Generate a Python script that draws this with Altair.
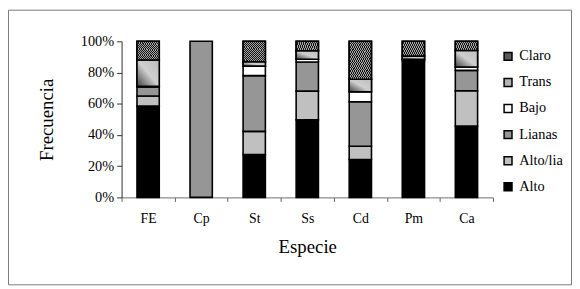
import altair as alt
import pandas as pd

especies = ["FE", "Cp", "St", "Ss", "Cd", "Pm", "Ca"]
series = ["Alto", "Alto/lia", "Lianas", "Bajo", "Trans", "Claro"]

alto = [58.5, 0, 27.5, 49.7, 24.3, 87.5, 45.7]
alto_lia = [6.5, 0, 14.8, 18.4, 8.5, 0, 22.6]
lianas = [5.7, 100, 35.7, 18.6, 28.5, 1.0, 13.1]
bajo = [0.5, 0, 6.1, 1.8, 6.4, 0, 2.1]
trans = [16.8, 0, 2.8, 5.5, 8.0, 2.0, 10.6]
claro = [12.0, 0, 13.1, 6.0, 24.3, 9.5, 5.9]

legend_order = ["Claro", "Trans", "Bajo", "Lianas", "Alto/lia", "Alto"]
legend_colors = ["#5a5a5a", "#b4b4b4", "#ffffff", "#969696", "#c0c0c0", "#000000"]
y_ticks = [0, 0.2, 0.4, 0.6, 0.8, 1.0]

rows = []
for i, e in enumerate(especies):
    base = 0.0
    for s, vals in zip(series, [alto, alto_lia, lianas, bajo, trans, claro]):
        v = vals[i]
        if v > 0:
            rows.append(dict(especie=e, serie=s, v0=base / 100, v1=(base + v) / 100))
        base += v
df = pd.DataFrame(rows)

FONT = "Liberation Serif"

x = alt.X(
    "especie:N",
    sort=especies,
    scale=alt.Scale(paddingInner=0, paddingOuter=0),
    axis=alt.Axis(
        title="Especie",
        tickBand="extent",
        labelAngle=0,
        labelFont=FONT,
        labelFontSize=14,
        labelColor="black",
        labelBaseline="alphabetic",
        labelPadding=21,
        tickSize=4,
        tickColor="#606060",
        domainColor="#707070",
        titleFont=FONT,
        titleFontSize=19,
        titleFontWeight="normal",
        titleColor="black",
        titleX=188,
        titleY=56,
        titleBaseline="alphabetic",
        titleAlign="center",
    ),
)
y = alt.Y(
    "v0:Q",
    scale=alt.Scale(domain=[0, 1]),
    axis=alt.Axis(
        values=y_ticks,
        format=".0%",
        title="Frecuencia",
        grid=False,
        labelFont=FONT,
        labelFontSize=14.5,
        labelColor="black",
        labelPadding=3,
        tickSize=5,
        tickColor="#303030",
        domainColor="#303030",
        titleFont=FONT,
        titleFontSize=19,
        titleFontWeight="normal",
        titleColor="black",
        titleAngle=270,
        titleX=-70,
        titleY=79,
        titleBaseline="alphabetic",
        titleAlign="center",
    ),
)

border = alt.Chart(pd.DataFrame({"a": [0]})).mark_rect(
    filled=False, stroke="#7a7a7a", strokeWidth=1
).encode(
    x=alt.value(-114.5), x2=alt.value(455.5), y=alt.value(-31.5), y2=alt.value(246.5)
)

bars = alt.Chart(df).mark_bar(
    width={"band": 0.42}, stroke="black", strokeWidth=1.6
).encode(
    x=x,
    y=y,
    y2="v1:Q",
    fill=alt.Fill(
        "serie:N",
        scale=alt.Scale(domain=legend_order, range=legend_colors),
        legend=alt.Legend(
            title=None,
            orient="none",
            legendX=384,
            legendY=8,
            symbolType="square",
            symbolSize=64,
            symbolStrokeColor="black",
            symbolStrokeWidth=1.5,
            labelFont=FONT,
            labelFontSize=14.5,
            labelColor="black",
            labelOffset=4,
            rowPadding=10.4,
            padding=0,
        ),
    ),
)

# gradient shading for "Trans" segments
grad = alt.Chart(df).transform_filter(alt.datum.serie == "Trans").mark_bar(
    width={"band": 0.42},
    stroke="black",
    strokeWidth=1.6,
    fill=alt.LinearGradient(
        gradient="linear",
        stops=[
            alt.GradientStop(offset=0, color="#404040"),
            alt.GradientStop(offset=0.5, color="#cfcfcf"),
            alt.GradientStop(offset=1, color="#bdbdbd"),
        ],
        x1=0, y1=1, x2=1, y2=0,
    ),
).encode(x=x, y=y, y2="v1:Q")

# hatch texture for "Claro" segments (striped gradient)
N = 22
hatch_stops = []
for k in range(N):
    a, b, c = k / N, (k + 0.5) / N, (k + 1) / N
    hatch_stops += [
        alt.GradientStop(offset=a, color="#151515"),
        alt.GradientStop(offset=b, color="#151515"),
        alt.GradientStop(offset=b, color="#a4a4a4"),
        alt.GradientStop(offset=c, color="#a4a4a4"),
    ]
hatch = alt.Chart(df).transform_filter(alt.datum.serie == "Claro").mark_bar(
    width={"band": 0.42},
    stroke="black",
    strokeWidth=1.6,
    fill=alt.LinearGradient(gradient="linear", stops=hatch_stops, x1=0, y1=0, x2=1, y2=1),
).encode(x=x, y=y, y2="v1:Q")

chart = alt.layer(border, bars, grad, hatch).properties(
    width=376,
    height=158,
    autosize="none",
    padding={"left": 115, "top": 32, "right": 80, "bottom": 90},
).configure(font=FONT, background="white").configure_view(stroke=None)

chart.save("out.html", embed_options={"renderer": "svg", "actions": False})
